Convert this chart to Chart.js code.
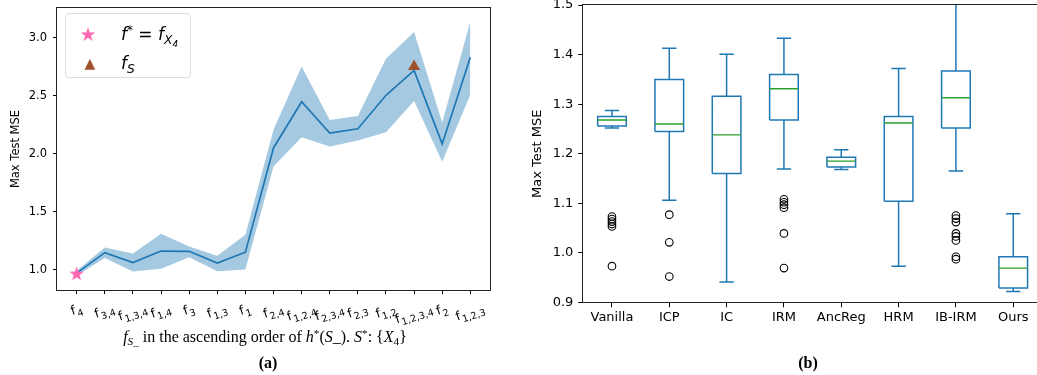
<!DOCTYPE html>
<html>
<head>
<meta charset="utf-8">
<script src="https://cdn.jsdelivr.net/npm/chart.js@4.4.0/dist/chart.umd.min.js"></script>
<style>
  html, body { margin:0; padding:0; background:#fff; width:1037px; height:375px; overflow:hidden; }
  #wrapA { position:absolute; left:0; top:0; width:520px; height:375px; }
  #wrapB { position:absolute; left:520px; top:0; width:517px; height:375px; overflow:hidden; }
  .cap { position:absolute; font-family:"Liberation Serif","DejaVu Serif",serif; color:#000; text-align:center; white-space:nowrap; }
  .cap sub { font-size:70%; vertical-align:-0.3em; line-height:0; }
  .cap sup { font-size:70%; vertical-align:0.45em; line-height:0; }
  #legend { position:absolute; left:65px; top:13px; width:124px; height:63px; border:1px solid #dcdcdc; border-radius:4px; background:rgba(255,255,255,0.85); font-family:"DejaVu Sans",sans-serif; }
  #legend .row { position:absolute; left:0; height:20px; line-height:20px; }
  #legend .mk { position:absolute; width:20px; text-align:center; }
  #legend .tx { position:absolute; left:55px; font-size:17px; font-style:italic; white-space:nowrap; }
  #legend .tx sub { font-size:72%; vertical-align:-0.35em; line-height:0; }
  #legend .tx sup { font-size:70%; vertical-align:0.5em; line-height:0; font-style:normal; }
</style>
</head>
<body>
<div id="wrapA"><canvas id="chartA" width="520" height="375"></canvas></div>
<div id="wrapB"><canvas id="chartB" width="527" height="375"></canvas></div>

<div id="legend">
  <div class="row" style="top:10px;width:124px;">
    <span class="mk" style="left:12px;color:#ff69b4;font-size:19px;">★</span>
    <span class="tx"><span>f</span><sup>*</sup> = f<sub>X<sub>4</sub></sub></span>
  </div>
  <div class="row" style="top:39px;width:124px;">
    <span class="mk" style="left:14px;color:#a0522d;font-size:14px;">▲</span>
    <span class="tx">f<sub>S</sub></span>
  </div>
</div>

<div class="cap" style="left:0;width:530px;top:327px;font-size:16px;line-height:20px;">
  <i>f</i><sub><i>S</i>_</sub> in the ascending order of <i>h</i><sup>*</sup>(<i>S</i>_). <i>S</i><sup>*</sup>: {<i>X</i><sub>4</sub>}
</div>
<div class="cap" style="left:0;width:536px;top:353px;font-size:16px;line-height:20px;font-weight:bold;">(a)</div>
<div class="cap" style="left:520px;width:576px;top:353px;font-size:16px;line-height:20px;font-weight:bold;">(b)</div>

<script>
// ---------------- Data: panel (a) ----------------
const subsetLabels = ['4','3,4','1,3,4','1,4','3','1,3','1','2,4','1,2,4','2,3,4','2,3','1,2','1,2,3,4','2','1,2,3'];
const meanMSE  = [0.970, 1.147, 1.060, 1.160, 1.158, 1.056, 1.150, 2.050, 2.449, 2.179, 2.216, 2.505, 2.720, 2.085, 2.832];
const upperMSE = [0.990, 1.190, 1.140, 1.310, 1.200, 1.120, 1.300, 2.207, 2.753, 2.292, 2.326, 2.820, 3.050, 2.270, 3.140];
const lowerMSE = [0.950, 1.100, 0.983, 1.008, 1.107, 0.985, 1.000, 1.890, 2.142, 2.063, 2.114, 2.185, 2.455, 1.930, 2.510];
const starIndex = 0,  starValue = 0.966;      // f* = f_X4
const triIndex = 12, triValue = 2.753;        // f_S
const leftYTicks = [1.0, 1.5, 2.0, 2.5, 3.0];

// ---------------- Data: panel (b) ----------------
const methods     = ['Vanilla','ICP','IC','IRM','AncReg','HRM','IB-IRM','Ours'];
const whiskerLow  = [1.252, 1.106, 0.941, 1.169, 1.168, 0.973, 1.165, 0.922];
const quart1      = [1.256, 1.245, 1.160, 1.268, 1.173, 1.104, 1.252, 0.929];
const medians     = [1.268, 1.260, 1.238, 1.331, 1.185, 1.262, 1.313, 0.969];
const quart3      = [1.275, 1.350, 1.316, 1.360, 1.193, 1.275, 1.367, 0.992];
const whiskerHigh = [1.287, 1.413, 1.401, 1.433, 1.208, 1.372, 1.530, 1.079];
const outliers    = [
  [1.073, 1.068, 1.063, 1.058, 1.053, 0.973],
  [1.077, 1.021, 0.952],
  [],
  [1.108, 1.102, 1.097, 1.091, 1.039, 0.969],
  [],
  [],
  [1.075, 1.069, 1.062, 1.039, 1.033, 1.025, 0.992, 0.987],
  []
];
const rightYTicks = [0.9, 1.0, 1.1, 1.2, 1.3, 1.4, 1.5];

// ---------------- Styling ----------------
const BLUE = '#1f77b4', GREEN = '#2ca02c';
Chart.defaults.font.family = '"DejaVu Sans", sans-serif';
Chart.defaults.color = '#000';
Chart.defaults.animation = false;

function starCanvas(size, color) {
  const c = document.createElement('canvas');
  c.width = size; c.height = size;
  const g = c.getContext('2d');
  const cx = size/2, cy = size/2 + 0.6, R = size/2, r = R*0.42;
  g.beginPath();
  for (let k = 0; k < 10; k++) {
    const rad = (k % 2 === 0) ? R : r;
    const a = -Math.PI/2 + k*Math.PI/5;
    const px = cx + rad*Math.cos(a), py = cy + rad*Math.sin(a);
    if (k === 0) g.moveTo(px, py); else g.lineTo(px, py);
  }
  g.closePath();
  g.fillStyle = color; g.fill();
  return c;
}

const framePlugin = {
  id: 'frame',
  afterDraw(chart) {
    const a = chart.chartArea, ctx = chart.ctx;
    ctx.save();
    ctx.strokeStyle = '#222';
    ctx.lineWidth = 1;
    ctx.strokeRect(Math.round(a.left) - 0.5, Math.round(a.top) - 0.5,
                   Math.round(a.right - a.left) + 1, Math.round(a.bottom - a.top) + 1);
    ctx.restore();
  }
};

const subLabelPlugin = {
  id: 'subLabels',
  afterDraw(chart) {
    const ctx = chart.ctx, xs = chart.scales.x;
    const deg = 18, ang = -deg*Math.PI/180;
    subsetLabels.forEach((s, i) => {
      const x = xs.getPixelForValue(i);
      ctx.save();
      ctx.font = '12.5px "DejaVu Sans"';
      const wf = ctx.measureText('f').width;
      ctx.font = '9.5px "DejaVu Sans"';
      const ws = ctx.measureText(s).width;
      const w = wf + ws + 1, h = 12;
      const bbH = w*Math.sin(deg*Math.PI/180) + h*Math.cos(deg*Math.PI/180);
      const cy = chart.chartArea.bottom + 13 + bbH/2;
      ctx.translate(x, cy);
      ctx.rotate(ang);
      ctx.fillStyle = '#000';
      ctx.textBaseline = 'alphabetic';
      ctx.textAlign = 'left';
      ctx.font = '12.5px "DejaVu Sans"';
      ctx.fillText('f', -w/2, 3);
      ctx.font = '9.5px "DejaVu Sans"';
      ctx.fillText(s, -w/2 + wf + 1, 6.5);
      ctx.restore();
    });
  }
};

function noPad(s) { s.paddingTop = 0; s.paddingBottom = 0; }

// ---------------- Panel (a) ----------------
const idx = subsetLabels.map((_, i) => i);
new Chart(document.getElementById('chartA'), {
  type: 'scatter',
  data: {
    datasets: [
      { data: idx.map(i => ({x: i, y: lowerMSE[i]})), showLine: true, borderWidth: 0, borderColor: 'rgba(0,0,0,0)',
        pointRadius: 0, fill: false, order: 4 },
      { data: idx.map(i => ({x: i, y: upperMSE[i]})), showLine: true, borderWidth: 0, borderColor: 'rgba(0,0,0,0)',
        pointRadius: 0, fill: '-1', backgroundColor: 'rgba(31,119,180,0.4)', order: 3 },
      { data: idx.map(i => ({x: i, y: meanMSE[i]})), showLine: true, borderColor: BLUE, borderWidth: 1.7,
        pointRadius: 0, fill: false, order: 2 },
      { data: [{x: starIndex, y: starValue}], pointStyle: starCanvas(15, '#ff69b4'), pointRadius: 7, order: 0 },
      { data: [{x: triIndex, y: triValue}], pointStyle: 'triangle', pointRadius: 7,
        backgroundColor: '#a0522d', borderColor: '#a0522d', borderWidth: 0, order: 1 }
    ]
  },
  options: {
    responsive: false, devicePixelRatio: 1,
    layout: { padding: { left: 0, top: 4, right: 30, bottom: 0 } },
    plugins: { legend: { display: false }, tooltip: { enabled: false } },
    scales: {
      x: {
        type: 'linear', min: -0.7, max: 14.7,
        afterBuildTicks: s => { s.ticks = idx.map(v => ({value: v})); },
        afterFit: s => { s.height = 85; s.paddingLeft = 0; s.paddingRight = 0; },
        ticks: { callback: () => '' },
        grid: { display: true, drawOnChartArea: false, drawTicks: true, tickLength: 4, color: '#000' },
        border: { display: false }
      },
      y: {
        min: 0.824, max: 3.258,
        afterBuildTicks: s => { s.ticks = leftYTicks.map(v => ({value: v})); },
        afterFit: s => { s.width = 57; noPad(s); },
        ticks: { callback: v => Number(v).toFixed(1), font: { size: 11.5 }, padding: 6 },
        grid: { display: true, drawOnChartArea: false, drawTicks: true, tickLength: 4, color: '#000' },
        border: { display: false },
        title: { display: true, text: 'Max Test MSE', font: { size: 11.5 }, padding: { top: 9, bottom: 0 } }
      }
    }
  },
  plugins: [framePlugin, subLabelPlugin]
});

// ---------------- Panel (b) ----------------
const BOX_HALF = 0.25, CAP_HALF = 0.125;
const boxPts = [], whiskerPts = [], medianPts = [], outlierPts = [];
methods.forEach((m, i) => {
  const x = i + 1;
  boxPts.push({x: x-BOX_HALF, y: quart1[i]}, {x: x+BOX_HALF, y: quart1[i]}, {x: x+BOX_HALF, y: quart3[i]},
              {x: x-BOX_HALF, y: quart3[i]}, {x: x-BOX_HALF, y: quart1[i]}, {x: x, y: null});
  whiskerPts.push({x: x, y: quart3[i]}, {x: x, y: whiskerHigh[i]}, {x: x, y: null},
                  {x: x-CAP_HALF, y: whiskerHigh[i]}, {x: x+CAP_HALF, y: whiskerHigh[i]}, {x: x, y: null},
                  {x: x, y: quart1[i]}, {x: x, y: whiskerLow[i]}, {x: x, y: null},
                  {x: x-CAP_HALF, y: whiskerLow[i]}, {x: x+CAP_HALF, y: whiskerLow[i]}, {x: x, y: null});
  medianPts.push({x: x-BOX_HALF, y: medians[i]}, {x: x+BOX_HALF, y: medians[i]}, {x: x, y: null});
  outliers[i].forEach(v => outlierPts.push({x: x, y: v}));
});

new Chart(document.getElementById('chartB'), {
  type: 'scatter',
  data: {
    datasets: [
      { data: medianPts, showLine: true, spanGaps: false, borderColor: GREEN, borderWidth: 1.4, pointRadius: 0, order: 0 },
      { data: boxPts, showLine: true, spanGaps: false, borderColor: BLUE, borderWidth: 1.5, pointRadius: 0, order: 1 },
      { data: whiskerPts, showLine: true, spanGaps: false, borderColor: BLUE, borderWidth: 1.5, pointRadius: 0, order: 2 },
      { data: outlierPts, pointStyle: 'circle', pointRadius: 3.8, borderWidth: 1.1, borderColor: '#000',
        backgroundColor: 'rgba(0,0,0,0)', order: 3 }
    ]
  },
  options: {
    responsive: false, devicePixelRatio: 1,
    layout: { padding: { left: 0, top: 3, right: 1, bottom: 0 } },
    plugins: { legend: { display: false }, tooltip: { enabled: false } },
    scales: {
      x: {
        type: 'linear', min: 0.5, max: 8.5,
        afterBuildTicks: s => { s.ticks = methods.map((m, i) => ({value: i + 1})); },
        afterFit: s => { s.height = 72.7; s.paddingLeft = 0; s.paddingRight = 0; },
        ticks: { callback: (v) => methods[Math.round(v) - 1] || '', font: { size: 13 }, padding: 3, maxRotation: 0, autoSkip: false },
        grid: { display: true, drawOnChartArea: false, drawTicks: true, tickLength: 5, color: '#000' },
        border: { display: false }
      },
      y: {
        min: 0.9, max: 1.5,
        afterBuildTicks: s => { s.ticks = rightYTicks.map(v => ({value: v})); },
        afterFit: s => { s.width = 63.3; noPad(s); },
        ticks: { callback: v => Number(v).toFixed(1), font: { size: 13 }, padding: 5 },
        grid: { display: true, drawOnChartArea: false, drawTicks: true, tickLength: 5, color: '#000' },
        border: { display: false },
        title: { display: true, text: 'Max Test MSE', font: { size: 13 }, padding: { top: 10, bottom: 0 } }
      }
    }
  },
  plugins: [framePlugin]
});
</script>
</body>
</html>
